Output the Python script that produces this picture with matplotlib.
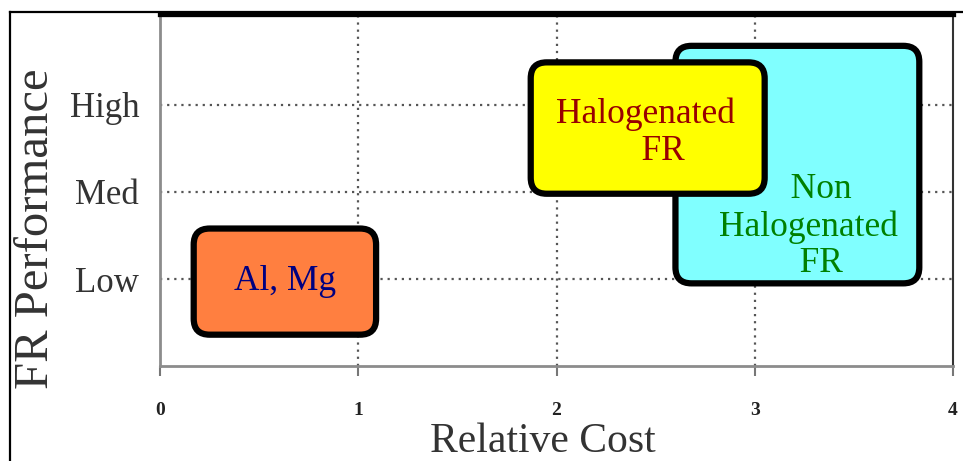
import matplotlib
matplotlib.use("Agg")
import matplotlib.pyplot as plt
from matplotlib.patches import FancyBboxPatch
from matplotlib.lines import Line2D

# Flame-retardant families: relative cost vs FR performance
groups = ["Al, Mg", "Halogenated\n    FR", "   Non\nHalogenated\n   FR"]
cost_min = [0.17, 1.87, 2.60]
cost_max = [1.09, 3.05, 3.83]
perf_min = [0.36, 1.98, 0.95]
perf_max = [1.58, 3.49, 3.68]
label_x = [0.63, 2.45, 3.27]
label_y = [0.97, 2.68, 1.60]
fill_colors = ["#FF7F40", "#FFFF00", "#80FFFF"]
text_colors = ["#000080", "#990000", "#008000"]
draw_order = [0, 2, 1]

x_ticks = [0, 1, 2, 3, 4]
perf_levels = [1, 2, 3]
perf_labels = ["Low", "Med", "High"]

SERIF = "Liberation Serif"
W, H, DPI = 963, 461, 100

fig = plt.figure(figsize=(W / DPI, H / DPI), dpi=DPI)
left, right, bottom, top = 160, 953, 366, 14.5
ax = fig.add_axes([left / W, 1 - bottom / H, (right - left) / W, (bottom - top) / H])
ax.set_xlim(0, 4)
ax.set_ylim(0, (bottom - top) / 87.0)

# grid
for x in x_ticks[1:-1]:
    ax.axvline(x, color="#555555", lw=1.6, ls=(0, (1, 2.2)), zorder=1)
for y in perf_levels:
    ax.axhline(y, color="#555555", lw=1.6, ls=(0, (1, 2.2)), zorder=1)

# spines
for s in ("left", "bottom"):
    ax.spines[s].set_color("#8c8c8c")
    ax.spines[s].set_linewidth(2.0)
ax.spines["right"].set_color("#333333")
ax.spines["right"].set_linewidth(1.5)
ax.spines["top"].set_color("black")
ax.spines["top"].set_linewidth(3.8)

ax.set_xticks(x_ticks)
ax.set_xticklabels([str(v) for v in x_ticks], fontfamily=SERIF, fontweight="bold",
                   fontsize=14, color="#222222")
ax.tick_params(axis="x", length=7, width=1.5, color="#777777", pad=19)
ax.set_yticks(perf_levels)
ax.set_yticklabels(perf_labels, fontfamily=SERIF, fontsize=25, color="#333333")
ax.tick_params(axis="y", length=0, pad=15)

ax.set_xlabel("Relative Cost", fontfamily=SERIF, fontsize=30, color="#333333")
ax.xaxis.set_label_coords(0.483, -0.16)
ax.set_ylabel("FR Performance", fontfamily=SERIF, fontsize=35, color="#333333")
ax.yaxis.set_label_coords(-0.128, 0.39)

# aspect so the rounded corners look circular on screen
px_x = (right - left) / 4.0
px_y = 87.0
aspect = px_x / px_y
rad = 16 / px_x

for rank, i in enumerate(draw_order):
    box = FancyBboxPatch((cost_min[i], perf_min[i]), cost_max[i] - cost_min[i],
                         perf_max[i] - perf_min[i],
                         boxstyle=f"round,pad=0,rounding_size={rad}",
                         mutation_aspect=aspect, facecolor=fill_colors[i],
                         edgecolor="black", lw=4.5, zorder=3 + rank)
    ax.add_patch(box)
    ax.text(label_x[i], label_y[i], groups[i], ha="center", va="center",
            multialignment="center", fontfamily=SERIF, fontsize=25.5,
            color=text_colors[i], linespacing=1.15, zorder=10)

# outer frame lines
fig.add_artist(Line2D([10 / W, 10 / W], [0, 1 - 12 / H], color="black", lw=1.6,
                      transform=fig.transFigure))
fig.add_artist(Line2D([10 / W, 1], [1 - 12 / H, 1 - 12 / H], color="black", lw=1.6,
                      transform=fig.transFigure))

fig.savefig("out.png", dpi=DPI, facecolor="white")
